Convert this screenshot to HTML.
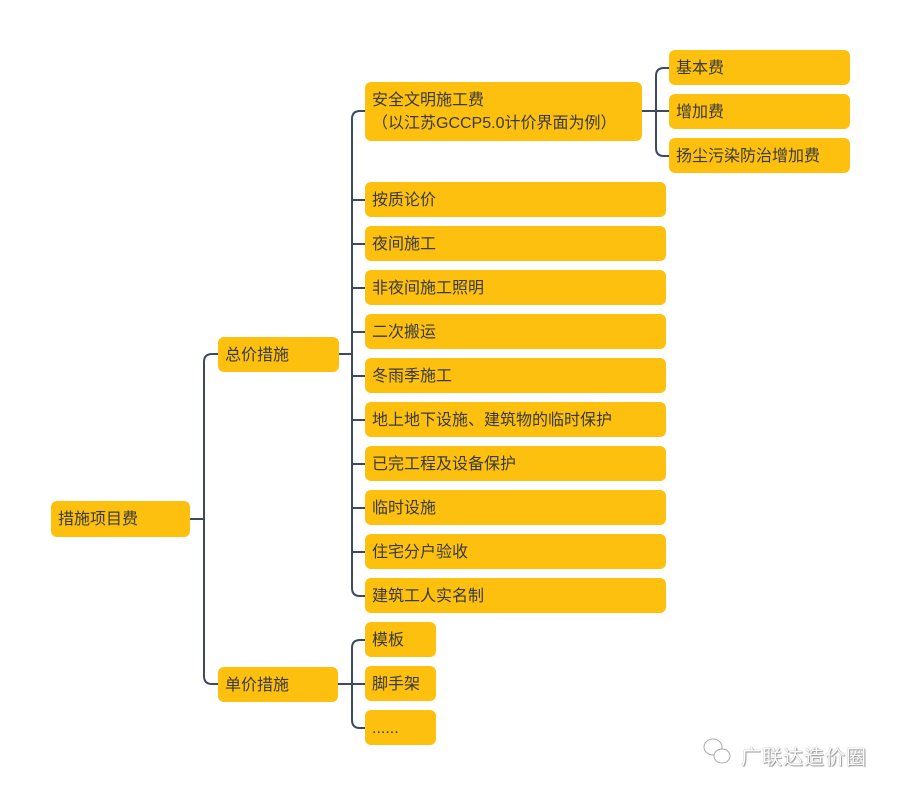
<!DOCTYPE html>
<html><head><meta charset="utf-8"><style>
body{margin:0;width:901px;height:796px;background:#fff;position:relative;overflow:hidden;font-family:"Liberation Sans","Noto Sans CJK SC",sans-serif;}
.b{position:absolute;background:#fdc00f;border-radius:6px;color:#3a3a3a;font-size:16px;height:35px;line-height:33px;padding-left:7px;padding-top:2px;box-sizing:border-box;white-space:nowrap;}
svg{position:absolute;left:0;top:0}
.wm{position:absolute;left:741px;top:741px;font-size:20px;color:#fff;text-shadow:0 0 1px #777,1px 1px 1px #999;letter-spacing:1px;}
</style></head><body>
<svg width="901" height="796" fill="none" stroke="#3c4a5e" stroke-width="2">
<path d="M190 519H204"/>
<path d="M218 354H212Q204 354 204 362V676Q204 684 212 684H218"/>
<path d="M339 354H352"/>
<path d="M365 111H360Q352 111 352 119V588Q352 596 360 596H365"/>
<path d="M352 200H365M352 244H365M352 288H365M352 332H365M352 376H365M352 420H365M352 464H365M352 508H365M352 552H365"/>
<path d="M642 111H669"/>
<path d="M669 68H664Q656 68 656 76V148Q656 156 664 156H669"/>
<path d="M338 684H365"/>
<path d="M365 640H360Q352 640 352 648V720Q352 728 360 728H365"/>
</svg>
<div class="b" style="left:51px;top:501px;width:139px;height:36px;line-height:34px">措施项目费</div>
<div class="b" style="left:218px;top:337px;width:121px;">总价措施</div>
<div class="b" style="left:218px;top:667px;width:120px;">单价措施</div>
<div class="b" style="left:365px;top:82px;width:277px;height:59px;line-height:23px;padding-top:7px">安全文明施工费<br>（以江苏GCCP5.0计价界面为例）</div>
<div class="b" style="left:669px;top:50px;width:181px;">基本费</div>
<div class="b" style="left:669px;top:94px;width:181px;">增加费</div>
<div class="b" style="left:669px;top:138px;width:181px;">扬尘污染防治增加费</div>
<div class="b" style="left:365px;top:182px;width:301px;">按质论价</div>
<div class="b" style="left:365px;top:226px;width:301px;">夜间施工</div>
<div class="b" style="left:365px;top:270px;width:301px;">非夜间施工照明</div>
<div class="b" style="left:365px;top:314px;width:301px;">二次搬运</div>
<div class="b" style="left:365px;top:358px;width:301px;">冬雨季施工</div>
<div class="b" style="left:365px;top:402px;width:301px;">地上地下设施、建筑物的临时保护</div>
<div class="b" style="left:365px;top:446px;width:301px;">已完工程及设备保护</div>
<div class="b" style="left:365px;top:490px;width:301px;">临时设施</div>
<div class="b" style="left:365px;top:534px;width:301px;">住宅分户验收</div>
<div class="b" style="left:365px;top:578px;width:301px;">建筑工人实名制</div>
<div class="b" style="left:365px;top:622px;width:71px;">模板</div>
<div class="b" style="left:365px;top:666px;width:71px;">脚手架</div>
<div class="b" style="left:365px;top:710px;width:71px;">......</div>
<svg width="901" height="796" fill="#fff" stroke="#aaa" stroke-width="1">
<ellipse cx="713" cy="747" rx="9" ry="8"/><ellipse cx="722" cy="756" rx="8" ry="7"/>
</svg>
<div class="wm">广联达造价圈</div>
</body></html>
